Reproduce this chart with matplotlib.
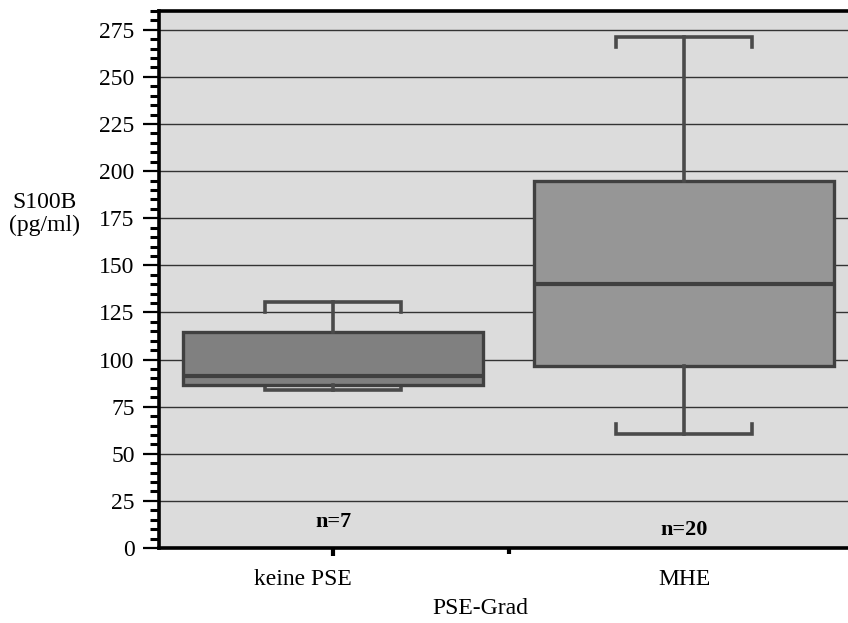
import matplotlib

matplotlib.use("Agg")
import matplotlib.pyplot as plt
import matplotlib.transforms as mtransforms
from matplotlib.ticker import MultipleLocator

plt.rcParams["font.family"] = ["Liberation Serif", "DejaVu Serif"]

categories = ["keine PSE", "MHE"]
n_labels = ["n=7", "n=20"]
n_label_y = [13.8, 9.6]
q1 = [86.5, 96.8]
median = [91.2, 140.2]
q3 = [114.7, 194.8]
whisker_low = [83.9, 60.5]
whisker_high = [130.8, 271.4]
box_colors = ["#808080", "#969696"]

stats = [
    dict(label=c, q1=a, med=m, q3=b, whislo=lo, whishi=hi, fliers=[])
    for c, a, m, b, lo, hi in zip(categories, q1, median, q3, whisker_low, whisker_high)
]

fig = plt.figure(figsize=(8.48, 6.23), dpi=100)
ax = fig.add_axes([0.1875, 0.1204, 0.8125, 0.8620])
ax.set_facecolor("#dcdcdc")

ax.set_ylim(0, 285)
ax.set_xlim(-0.496, 1.467)
ax.yaxis.set_major_locator(MultipleLocator(25))
ax.yaxis.set_minor_locator(MultipleLocator(5))
ax.grid(axis="y", which="major", color="#333333", linewidth=1.0)
ax.set_axisbelow(True)

edge = "#404040"
bp = ax.bxp(
    stats,
    positions=[0, 1],
    widths=0.855,
    patch_artist=True,
    showcaps=False,
    boxprops=dict(edgecolor=edge, linewidth=2.4),
    whiskerprops=dict(color="#4a4a4a", linewidth=2.6),
    medianprops=dict(color=edge, linewidth=3.0),
    zorder=3,
)
for patch, col in zip(bp["boxes"], box_colors):
    patch.set_facecolor(col)

# bracket-shaped caps with short hooks pointing toward the box
cap_half = 0.193
hook = 5.5
for pos, lo, hi in zip([0, 1], whisker_low, whisker_high):
    for y, d in ((hi, -hook), (lo, hook)):
        ax.plot(
            [pos - cap_half, pos - cap_half, pos + cap_half, pos + cap_half],
            [y + d, y, y, y + d],
            color="#4a4a4a",
            linewidth=2.6,
            solid_joinstyle="miter",
            zorder=2.5,
        )

for pos, txt, y in zip([0, 1], n_labels, n_label_y):
    ax.text(pos, y, txt, ha="center", va="center", fontsize=16, fontweight="bold", zorder=4)

ax.set_xticks([0, 1])
ax.set_xticklabels(categories, fontsize=17)
ax.set_xticks([0.5], minor=True)
ax.tick_params(axis="x", which="major", length=6, width=3, color="black", pad=9)
ax.tick_params(axis="x", which="minor", length=4, width=3, color="black")
ax.xaxis.get_major_ticks()[1].tick1line.set_visible(False)
# first category label sits a bit left of its tick in the original
shift = mtransforms.ScaledTranslation(-30 / 100, 0, fig.dpi_scale_trans)
lbl = ax.get_xticklabels()[0]
lbl.set_transform(lbl.get_transform() + shift)

ax.tick_params(axis="y", which="major", length=11.5, width=1.6, labelsize=17, pad=6)
ax.tick_params(axis="y", which="minor", length=6.5, width=2.2)

for side in ("left", "bottom", "top"):
    ax.spines[side].set_linewidth(2.6)
    ax.spines[side].set_color("black")
ax.spines["right"].set_visible(False)

fig.text(480 / 848, 1 - 608 / 623, "PSE-Grad", ha="center", va="center", fontsize=17)
fig.text(45 / 848, 1 - 214 / 623, "S100B\n(pg/ml)", ha="center", va="center",
         fontsize=17, linespacing=1.15)

fig.savefig("out.png", dpi=100, facecolor="white")
